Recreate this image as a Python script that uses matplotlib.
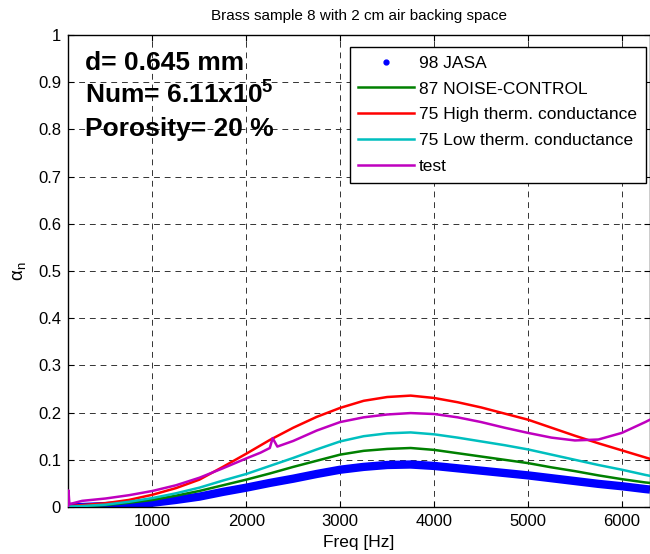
#!/usr/bin/env python3
"""
Absorption coefficient of brass sample 8 (2 cm air backing), four models + test.
"""

import matplotlib
matplotlib.use("Agg")
import matplotlib.pyplot as plt
from matplotlib.lines import Line2D

plt.rcParams["font.family"] = ["Liberation Sans", "DejaVu Sans"]
plt.rcParams["mathtext.fontset"] = "custom"
plt.rcParams["mathtext.rm"] = "Liberation Sans"
plt.rcParams["mathtext.it"] = "Liberation Sans:italic"
plt.rcParams["mathtext.bf"] = "Liberation Sans:bold"

# --- data
freq = [100, 250, 500, 750, 1000, 1250, 1500, 1750, 2000, 2250, 2500, 2750,
        3000, 3250, 3500, 3750, 4000, 4250, 4500, 4750, 5000, 5250, 5500,
        5750, 6000, 6250, 6300]
jasa98 = [0.000, 0.000, 0.002, 0.005, 0.009, 0.015, 0.022, 0.032, 0.041,
          0.051, 0.060, 0.070, 0.079, 0.085, 0.089, 0.090, 0.087, 0.082,
          0.077, 0.072, 0.067, 0.061, 0.055, 0.049, 0.044, 0.038, 0.037]
noise87 = [0.001, 0.002, 0.004, 0.009, 0.015, 0.024, 0.034, 0.046, 0.058,
           0.071, 0.085, 0.098, 0.111, 0.119, 0.123, 0.125, 0.121, 0.114,
           0.107, 0.100, 0.093, 0.084, 0.076, 0.067, 0.059, 0.052, 0.051]
high75 = [0.002, 0.004, 0.008, 0.015, 0.026, 0.040, 0.058, 0.085, 0.113,
          0.142, 0.168, 0.191, 0.210, 0.225, 0.233, 0.236, 0.231, 0.222,
          0.211, 0.198, 0.185, 0.168, 0.151, 0.135, 0.120, 0.105, 0.102]
low75 = [0.001, 0.002, 0.005, 0.011, 0.019, 0.029, 0.041, 0.056, 0.070,
         0.087, 0.104, 0.122, 0.139, 0.150, 0.156, 0.158, 0.154, 0.147,
         0.139, 0.131, 0.122, 0.111, 0.100, 0.089, 0.079, 0.068, 0.066]

test_freq = [100, 105, 115, 250, 500, 750, 1000, 1250, 1500, 1750, 2000,
             2150, 2250, 2280, 2330, 2500, 2750, 3000, 3250, 3500, 3750,
             4000, 4250, 4500, 4750, 5000, 5250, 5500, 5750, 6000, 6250, 6300]
test = [0.000, 0.035, 0.006, 0.013, 0.018, 0.025, 0.034, 0.046, 0.062,
        0.082, 0.103, 0.115, 0.125, 0.146, 0.128, 0.140, 0.162, 0.180,
        0.190, 0.196, 0.199, 0.197, 0.190, 0.180, 0.168, 0.157, 0.147,
        0.141, 0.143, 0.157, 0.180, 0.185]

labels = ["98 JASA", "87 NOISE-CONTROL", "75 High therm. conductance",
          "75 Low therm. conductance", "test"]
xticks = [1000, 2000, 3000, 4000, 5000, 6000]
yticks = [0, 0.1, 0.2, 0.3, 0.4, 0.5, 0.6, 0.7, 0.8, 0.9, 1]
ytick_labels = ["0", "0.1", "0.2", "0.3", "0.4", "0.5", "0.6", "0.7",
                "0.8", "0.9", "1"]

fig = plt.figure(figsize=(6.5, 5.54), dpi=100)
ax = fig.add_axes([68 / 650, 47 / 554, 582 / 650, 472 / 554])

ax.plot(freq, jasa98, color="b", lw=6, solid_capstyle="butt", zorder=2)
ax.plot(freq, noise87, color="#008000", lw=1.8, zorder=3)
ax.plot(freq, high75, color="r", lw=1.8, zorder=3)
ax.plot(freq, low75, color="#00bfbf", lw=1.8, zorder=3)
ax.plot(test_freq, test, color="#bf00bf", lw=1.8, zorder=3)

ax.set_xlim(100, 6300)
ax.set_ylim(0, 1)
ax.set_xticks(xticks)
ax.set_yticks(yticks)
ax.set_yticklabels(ytick_labels)
ax.tick_params(direction="in", top=True, right=True, labelsize=12, pad=5,
               length=4)
ax.grid(True, color="0.2", ls=(0, (6, 5)), lw=0.7)
ax.set_axisbelow(True)
for s in ax.spines.values():
    s.set_linewidth(1.0)

ax.set_title("Brass sample 8 with 2 cm air backing space", fontsize=11,
             pad=11)
ax.set_xlabel("Freq [Hz]", fontsize=12.5, labelpad=4)
ax.set_ylabel(r"$\mathrm{\alpha_n}$", fontsize=13.5, labelpad=7)

# --- annotation block
ax.text(0.03, 0.925, "d= 0.645 mm", transform=ax.transAxes,
        fontsize=19, fontweight="bold", va="baseline")
ax.text(0.03, 0.855, r"Num= 6.11x10$^{\mathbf{5}}$", transform=ax.transAxes,
        fontsize=19, fontweight="bold", va="baseline")
ax.text(0.03, 0.785, "Porosity= 20 %", transform=ax.transAxes,
        fontsize=19, fontweight="bold", va="baseline")

# --- legend
handles = [
    Line2D([], [], color="b", marker=".", ls="none", markersize=7),
    Line2D([], [], color="#008000", lw=1.8),
    Line2D([], [], color="r", lw=1.8),
    Line2D([], [], color="#00bfbf", lw=1.8),
    Line2D([], [], color="#bf00bf", lw=1.8),
]
leg = ax.legend(handles, labels, loc="upper right",
                bbox_to_anchor=(0.993, 0.975), borderaxespad=0,
                fontsize=12.5, handlelength=3.2, handletextpad=0.3,
                labelspacing=0.62, borderpad=0.5, fancybox=False,
                framealpha=1, edgecolor="k")
leg.get_frame().set_linewidth(1.0)

fig.savefig("out.png", dpi=100)
